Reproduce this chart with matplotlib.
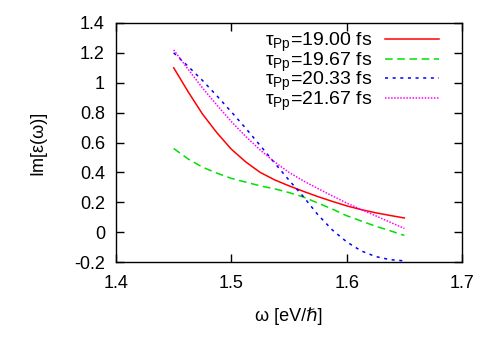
"""
Im[eps(omega)] for several tau_Pp values, gnuplot-like styling.
"""

import matplotlib

matplotlib.use("Agg")
import matplotlib.pyplot as plt
from matplotlib.ticker import FuncFormatter, MultipleLocator

plt.rcParams["font.family"] = ["Liberation Sans", "DejaVu Sans"]
plt.rcParams["mathtext.fontset"] = "custom"
plt.rcParams["mathtext.rm"] = "Liberation Sans"

OMEGA = [1.45, 1.4625, 1.475, 1.4875, 1.50, 1.5125, 1.525, 1.5375, 1.55,
         1.5625, 1.575, 1.5875, 1.60, 1.6125, 1.625, 1.6375, 1.65]

IM_19_00 = [1.10, 0.94, 0.79, 0.665, 0.555, 0.47, 0.40, 0.35, 0.31,
            0.273, 0.238, 0.206, 0.176, 0.151, 0.13, 0.112, 0.095]
IM_19_67 = [0.56, 0.49, 0.435, 0.395, 0.36, 0.335, 0.31, 0.29, 0.265,
            0.235, 0.195, 0.155, 0.11, 0.075, 0.04, 0.01, -0.022]
IM_20_33 = [1.20, 1.11, 1.015, 0.912, 0.805, 0.695, 0.58, 0.463, 0.348,
            0.237, 0.117, 0.015, -0.065, -0.125, -0.163, -0.184, -0.192]
IM_21_67 = [1.22, 1.09, 0.965, 0.85, 0.74, 0.64, 0.55, 0.47, 0.40,
            0.343, 0.292, 0.243, 0.195, 0.152, 0.11, 0.067, 0.025]

LABELS = ["19.00", "19.67", "20.33", "21.67"]


def main() -> None:
    fig = plt.figure(figsize=(4.91, 3.43), dpi=100)
    ax = fig.add_axes([0.2363, 0.236, 0.7047, 0.697])

    series = [IM_19_00, IM_19_67, IM_20_33, IM_21_67]
    styles = [
        dict(color="#ff0000", linestyle="-"),
        dict(color="#00e000", linestyle=(0, (5, 3))),
        dict(color="#0000ff", linestyle=(0, (2, 3))),
        dict(color="#ff00ff", linestyle=(0, (1, 1))),
    ]
    for vals, lab, st in zip(series, LABELS, styles):
        ax.plot(OMEGA, vals, linewidth=1.1, label=f"τ$_{{\\mathrm{{Pp}}}}$={lab} fs", **st)

    ax.set_xlim(1.4, 1.7)
    ax.set_ylim(-0.2, 1.4)
    ax.xaxis.set_major_locator(MultipleLocator(0.1))
    ax.yaxis.set_major_locator(MultipleLocator(0.2))
    fmt = FuncFormatter(lambda v, _: f"{round(v, 6):g}")
    ax.xaxis.set_major_formatter(fmt)
    ax.yaxis.set_major_formatter(fmt)
    ax.tick_params(direction="in", length=6, width=1, top=True, right=True,
                   labelsize=13)
    ax.tick_params(axis="x", pad=9)
    ax.tick_params(axis="y", pad=8)
    for sp in ax.spines.values():
        sp.set_linewidth(1)

    ax.set_xlabel("ω [eV/ℏ]", fontsize=13, labelpad=11)
    ax.set_ylabel("Im[ε(ω)]", fontsize=13, labelpad=20)

    # gnuplot key: text right-aligned, sample to the right, tight rows
    ax.legend(loc="upper right", markerfirst=False, frameon=False, fontsize=14,
              handlelength=2.8, handletextpad=0.63, labelspacing=-0.2,
              borderaxespad=0.0, borderpad=0.4, bbox_to_anchor=(0.957, 1.0))

    fig.savefig("out.png", dpi=100)
    plt.close(fig)


if __name__ == "__main__":
    main()
